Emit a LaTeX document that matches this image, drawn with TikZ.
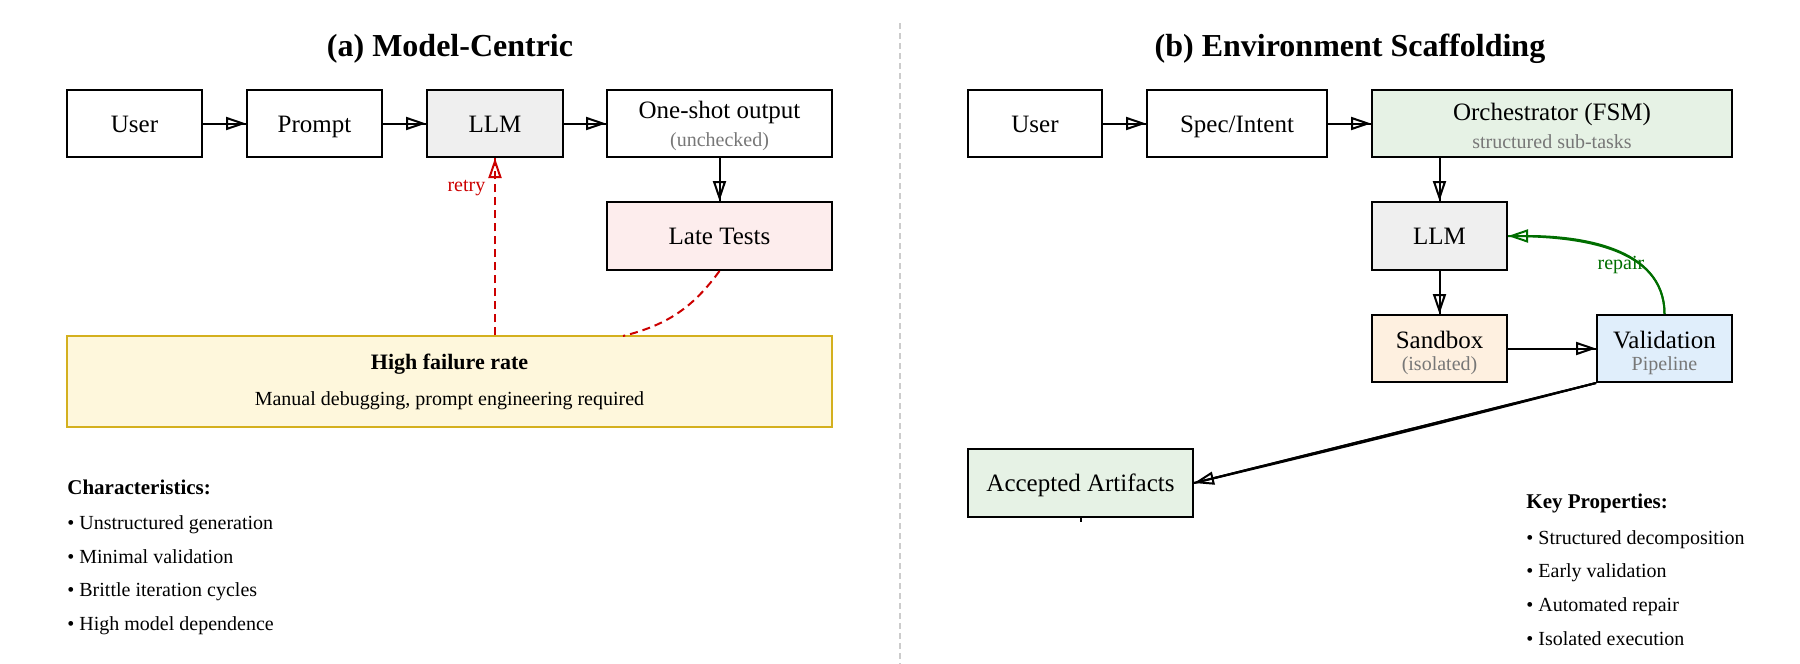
\documentclass[tikz,border=0pt]{standalone}
\usepackage{fontspec}
\setmainfont{Liberation Serif}
\usetikzlibrary{arrows.meta,calc}
\definecolor{llmfill}{HTML}{EFEFEF}
\definecolor{latefill}{HTML}{FDEDED}
\definecolor{hffill}{HTML}{FEF7DC}
\definecolor{hfdraw}{HTML}{D4B01E}
\definecolor{greenfill}{HTML}{E6F2E5}
\definecolor{sandfill}{HTML}{FEF0E0}
\definecolor{valfill}{HTML}{E0EEFB}
\definecolor{subgray}{HTML}{777777}
\definecolor{retryred}{HTML}{CC0000}
\definecolor{repairgreen}{HTML}{006E00}
\definecolor{sepgray}{HTML}{CCCCCC}
\newcommand{\subf}{\fontsize{10}{12}\selectfont\color{subgray}}
\tikzset{
  bx/.style 2 args={draw=black, line width=1pt, inner sep=0pt, align=center,
    minimum width=#1*0.5pt, minimum height=#2*0.5pt,
    font=\fontsize{12.5}{13}\selectfont},
  oneline/.style={text height=10.9pt, text depth=2.4pt},
  openhead/.style={-{Triangle[open,length=10pt,width=6.5pt]}},
  arr/.style={line width=1pt, postaction={draw, openhead}},
  ttl/.style={font=\fontsize{16}{18}\selectfont\bfseries},
  txt/.style={anchor=west, inner sep=0pt, text height=9pt, text depth=2pt, font=\fontsize{10}{12}\selectfont},
  hdr/.style={anchor=west, inner sep=0pt, text height=9.3pt, text depth=2pt, font=\fontsize{10.5}{12}\selectfont\bfseries}
}
\begin{document}
\begin{tikzpicture}[x=0.5pt,y=0.5pt]
\path[use as bounding box] (0,0) rectangle (1800,-664);
% separator
\draw[sepgray, line width=0.6pt, dash pattern=on 3pt off 2pt] (900,-23) -- (900,-664);
% titles
\node[ttl] (ta) at (450,-49) {(a) Model-Centric};
\node[ttl] (tb) at (1350,-49) {(b) Environment Scaffolding};
% ---- left panel
\node[bx={135}{67}, oneline] (uA) at (134.5,-123.5) {User};
\node[bx={135}{67}, oneline] (pA) at (314.5,-123.5) {Prompt};
\node[bx={136}{67}, oneline, fill=llmfill] (lA) at (495,-123.5) {LLM};
\node[bx={225}{67}] (oA) at (719.5,-123.5) {\rule{0pt}{11pt}One-shot output\\[1pt]{\subf (unchecked)}};
\node[bx={225}{68}, oneline, fill=latefill] (ltA) at (719.5,-236) {Late Tests};
\node[bx={765}{91}, draw=hfdraw, fill=hffill] (hf) at (449.5,-381.5)
  {{\fontsize{11}{13}\selectfont\bfseries High failure rate}\\[5pt]{\fontsize{10}{12}\selectfont Manual debugging, prompt engineering required}};
\draw[arr] (uA) -- (pA);
\draw[arr] (pA) -- (lA);
\draw[arr] (lA) -- (oA);
\draw[arr] (oA) -- (ltA);
\coordinate (hfin) at (623,-336);
\draw[retryred, line width=1pt, dash pattern=on 4pt off 2.5pt] (ltA.south) to[bend left=20] (hfin);
\draw[retryred, line width=1pt, dash pattern=on 4pt off 2.5pt, postaction={draw, openhead}]
  (hf.north -| lA.south) -- node[pos=0.83, left=1pt, font=\fontsize{10}{12}\selectfont, text=retryred] (rt) {retry} (lA.south);
\node[hdr] (chA) at (67,-487) {Characteristics:};
\node[txt] (c1) at (67,-522) {\textbullet\ Unstructured generation};
\node[txt] (c2) at (67,-556) {\textbullet\ Minimal validation};
\node[txt] (c3) at (67,-589) {\textbullet\ Brittle iteration cycles};
\node[txt] (c4) at (67,-623) {\textbullet\ High model dependence};
% ---- right panel
\node[bx={134}{67}, oneline] (uB) at (1035,-123.5) {User};
\node[bx={180}{67}, oneline] (sB) at (1237,-123.5) {Spec/Intent};
\node[bx={360}{67}, fill=greenfill] (orB) at (1552,-123.5) {\rule{0pt}{11pt}Orchestrator (FSM)\\[1pt]{\subf structured sub-tasks}};
\node[bx={135}{68}, oneline, fill=llmfill] (lB) at (1439.5,-236) {LLM};
\node[bx={135}{67}, fill=sandfill] (sbB) at (1439.5,-348.5) {\rule{0pt}{13pt}Sandbox\\[-2pt]{\subf (isolated)}};
\node[bx={135}{67}, fill=valfill] (vB) at (1664.5,-348.5) {\rule{0pt}{13pt}Validation\\[-2pt]{\subf Pipeline}};
\node[bx={225}{68}, oneline, fill=greenfill] (acB) at (1080.5,-483) {Accepted Artifacts};
\draw[arr] (uB) -- (sB);
\draw[arr] (sB) -- (orB);
\draw[arr] (orB.south -| lB.north) -- (lB.north);
\draw[arr] (lB) -- (sbB);
\draw[arr] (sbB) -- (vB);
\draw[arr] (vB.south west) -- (acB.east);
\draw[line width=1pt] (vB.south west) to[bend left=0.6] (acB.east);
\draw[line width=1pt] (acB.south) -- ++(0,-4);
\draw[repairgreen, line width=1pt, postaction={draw, openhead}]
  (vB.north) to[out=90, in=0] (lB.east);
\node[font=\fontsize{10}{12}\selectfont, text=repairgreen] (rp) at (1621,-265) {repair};
\node[hdr] (kp) at (1526,-501) {Key Properties:};
\node[txt] (k1) at (1526,-537) {\textbullet\ Structured decomposition};
\node[txt] (k2) at (1526,-570) {\textbullet\ Early validation};
\node[txt] (k3) at (1526,-604) {\textbullet\ Automated repair};
\node[txt] (k4) at (1526,-638) {\textbullet\ Isolated execution};
\end{tikzpicture}
\end{document}
